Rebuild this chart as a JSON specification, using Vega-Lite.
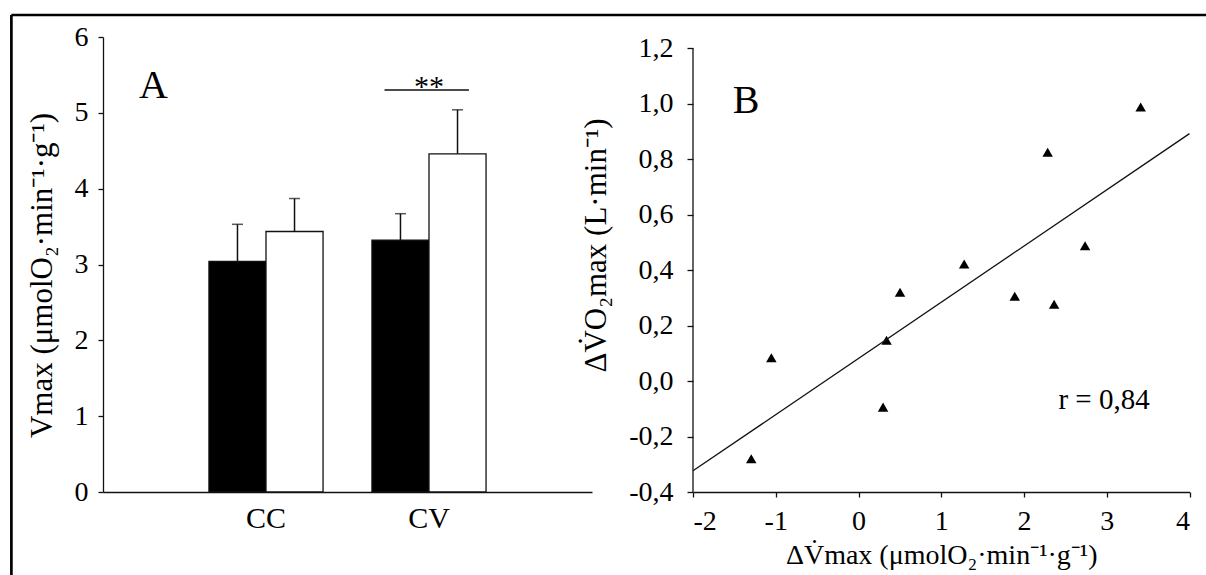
{
  "$schema": "https://vega.github.io/schema/vega-lite/v6.json",
  "background": "white",
  "padding": {"left": 10, "top": 13, "right": 0, "bottom": 0},
  "autosize": {"type": "pad"},
  "bounds": "flush",
  "spacing": 101,
  "config": {
    "view": {"stroke": null},
    "font": "Liberation Serif",
    "axis": {
      "grid": false,
      "labelFont": "Liberation Serif",
      "titleFont": "Liberation Serif",
      "labelColor": "#000",
      "titleColor": "#000",
      "titleFontWeight": "normal",
      "domainColor": "#111",
      "tickColor": "#111",
      "domainWidth": 1.3,
      "tickWidth": 1.3,
      "labelFontSize": 28,
      "titleFontSize": 29
    }
  },
  "hconcat": [
    {
      "width": 489,
      "height": 455,
      "data": {
        "values": [
          {"group": "CC", "phase": "pre", "mean": 3.04, "upper": 3.53},
          {"group": "CC", "phase": "post", "mean": 3.435, "upper": 3.87},
          {"group": "CV", "phase": "pre", "mean": 3.32, "upper": 3.67},
          {"group": "CV", "phase": "post", "mean": 4.46, "upper": 5.04}
        ]
      },
      "layer": [
        {
          "mark": {"type": "bar", "stroke": "#111", "strokeWidth": 1.3},
          "encoding": {
            "x": {
              "field": "group",
              "type": "nominal",
              "scale": {"paddingInner": 0.3, "paddingOuter": 0.65},
              "axis": {"title": null, "ticks": false, "tickSize": 0, "labelAngle": 0, "labelFontSize": 30, "labelPadding": 11}
            },
            "xOffset": {"field": "phase", "type": "nominal", "sort": ["pre", "post"]},
            "y": {
              "field": "mean",
              "type": "quantitative",
              "scale": {"domain": [0, 6], "nice": false},
              "axis": {
                "values": [0, 1, 2, 3, 4, 5, 6],
                "format": "d",
                "tickSize": 5,
                "labelPadding": 10,
                "title": "Vmax (μmolO₂·min⁻¹·g⁻¹)",
                "titleFontSize": 31,
                "titlePadding": 16,
                "titleY": 238
              }
            },
            "fill": {
              "field": "phase",
              "type": "nominal",
              "scale": {"domain": ["pre", "post"], "range": ["#000000", "#ffffff"]},
              "legend": null
            }
          }
        },
        {
          "mark": {"type": "rule", "color": "#111", "strokeWidth": 1.5},
          "encoding": {
            "x": {"field": "group", "type": "nominal"},
            "xOffset": {"field": "phase", "type": "nominal", "sort": ["pre", "post"]},
            "y": {"field": "mean", "type": "quantitative"},
            "y2": {"field": "upper"}
          }
        },
        {
          "mark": {"type": "tick", "color": "#111", "thickness": 1.5, "size": 11},
          "encoding": {
            "x": {"field": "group", "type": "nominal"},
            "xOffset": {"field": "phase", "type": "nominal", "sort": ["pre", "post"]},
            "y": {"field": "upper", "type": "quantitative"}
          }
        },
        {
          "data": {"values": [{"label": "**"}]},
          "mark": {"type": "rule", "color": "#111", "strokeWidth": 1.5},
          "encoding": {
            "x": {"datum": "CV", "bandPosition": 0.11},
            "x2": {"datum": "CV", "bandPosition": 0.85},
            "y": {"datum": 5.3}
          }
        },
        {
          "data": {"values": [{"label": "**"}]},
          "mark": {"type": "text", "fontSize": 30, "align": "center", "baseline": "alphabetic", "color": "#000"},
          "encoding": {
            "x": {"datum": "CV", "bandPosition": 0.5},
            "y": {"datum": 5.22},
            "text": {"field": "label"}
          }
        },
        {
          "data": {"values": [{"label": "A"}]},
          "mark": {"type": "text", "fontSize": 40, "align": "left", "baseline": "alphabetic", "color": "#000", "dx": -70},
          "encoding": {
            "x": {"datum": "CC", "bandPosition": 0},
            "y": {"datum": 5.19},
            "text": {"field": "label"}
          }
        }
      ]
    },
    {
      "width": 496.5,
      "height": 455,
      "data": {
        "values": [
          {"dv": 3.41, "dvo2": 0.988},
          {"dv": 2.286, "dvo2": 0.825},
          {"dv": 2.738, "dvo2": 0.488},
          {"dv": 1.277, "dvo2": 0.422},
          {"dv": 0.502, "dvo2": 0.32},
          {"dv": 1.888, "dvo2": 0.306},
          {"dv": 2.364, "dvo2": 0.277},
          {"dv": 0.339, "dvo2": 0.147},
          {"dv": -1.053, "dvo2": 0.084},
          {"dv": 0.297, "dvo2": -0.094},
          {"dv": -1.296, "dvo2": -0.28}
        ]
      },
      "layer": [
        {
          "mark": {"type": "point", "shape": "triangle-up", "filled": true, "color": "#000", "opacity": 1, "size": 110},
          "encoding": {
            "x": {
              "field": "dv",
              "type": "quantitative",
              "scale": {"domain": [-2, 4], "nice": false, "zero": false},
              "axis": {
                "values": [-2, -1, 0, 1, 2, 3, 4],
                "labelExpr": "datum.value < 0 ? '-' + abs(datum.value) : '' + datum.value",
                "tickSize": 5,
                "labelPadding": 10,
                "title": "ΔV̇max (μmolO₂·min⁻¹·g⁻¹)",
                "titleFontSize": 28,
                "titlePadding": 6
              }
            },
            "y": {
              "field": "dvo2",
              "type": "quantitative",
              "scale": {"domain": [-0.4, 1.2407], "nice": false, "zero": false},
              "axis": {
                "values": [-0.4, -0.2, 0, 0.2, 0.4, 0.6, 0.8, 1, 1.2],
                "labelExpr": "replace(replace(format(datum.value, '.1f'), '.', ','), '\u2212', '-')",
                "domain": false,
                "tickSize": 6,
                "labelPadding": 14,
                "title": "ΔV̇O₂max (L·min⁻¹)",
                "titleFontSize": 31,
                "titlePadding": 16,
                "titleY": 208
              }
            }
          }
        },
        {
          "transform": [{"regression": "dvo2", "on": "dv", "extent": [-2, 4]}],
          "mark": {"type": "line", "color": "#111", "strokeWidth": 1.3},
          "encoding": {
            "x": {"field": "dv", "type": "quantitative"},
            "y": {"field": "dvo2", "type": "quantitative"}
          }
        },
        {
          "data": {"values": [{"axis": "y"}]},
          "mark": {"type": "rule", "color": "#111", "strokeWidth": 1.3},
          "encoding": {
            "x": {"datum": -2},
            "y": {"datum": -0.4},
            "y2": {"datum": 1.2}
          }
        },
        {
          "data": {"values": [{"edge": "top"}]},
          "mark": {"type": "rule", "color": "#000", "strokeWidth": 2.7},
          "encoding": {
            "x": {"datum": -10.237},
            "x2": {"datum": 4.3},
            "y": {"datum": 1.32}
          }
        },
        {
          "data": {"values": [{"edge": "left"}]},
          "mark": {"type": "rule", "color": "#000", "strokeWidth": 2.7},
          "encoding": {
            "x": {"datum": -10.237},
            "y": {"datum": 1.32},
            "y2": {"datum": -0.74}
          }
        },
        {
          "data": {"values": [{"label": "B"}]},
          "mark": {"type": "text", "fontSize": 40, "align": "left", "baseline": "alphabetic", "color": "#000"},
          "encoding": {
            "x": {"datum": -1.519},
            "y": {"datum": 0.967},
            "text": {"field": "label"}
          }
        },
        {
          "data": {"values": [{"label": "r = 0,84"}]},
          "mark": {"type": "text", "fontSize": 29, "align": "left", "baseline": "middle", "color": "#000"},
          "encoding": {
            "x": {"datum": 2.416},
            "y": {"datum": -0.069},
            "text": {"field": "label"}
          }
        }
      ]
    }
  ]
}
